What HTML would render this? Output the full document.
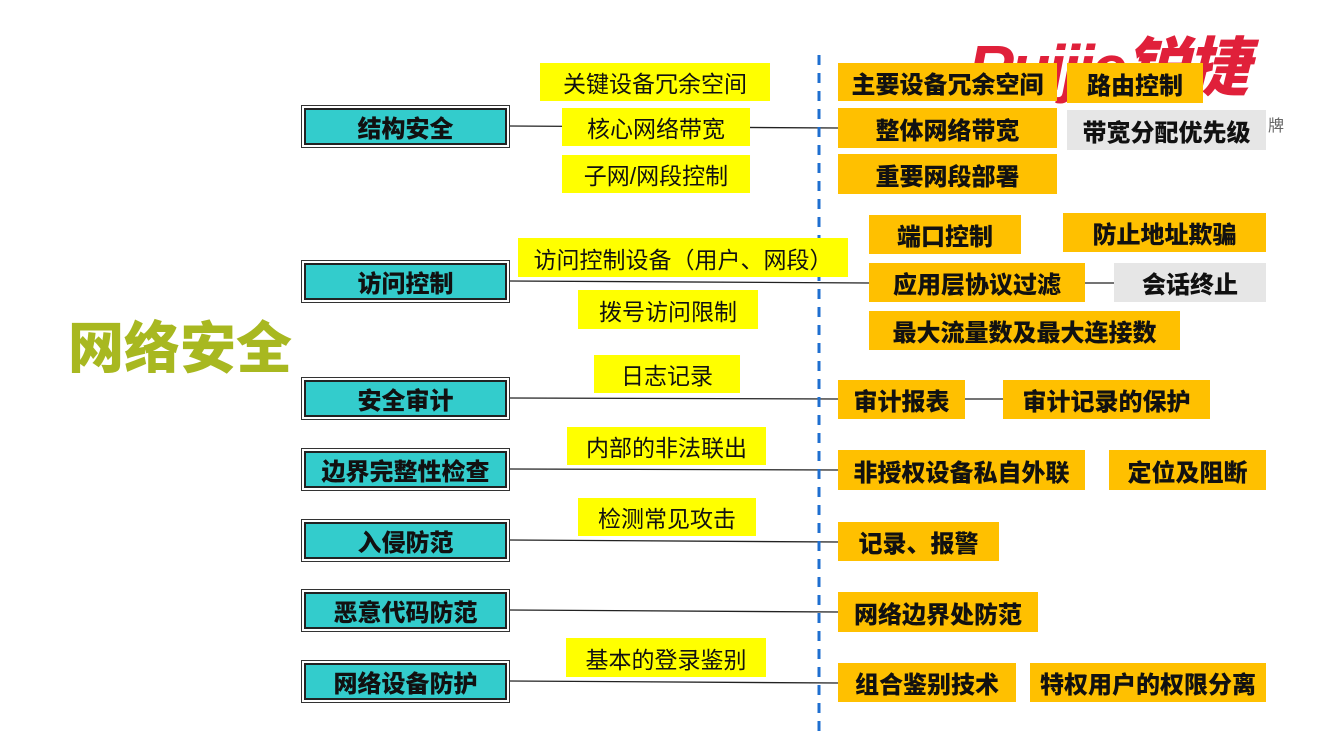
<!DOCTYPE html>
<html><head><meta charset="utf-8"><style>
body{margin:0;width:1333px;height:750px;background:#fff;position:relative;overflow:hidden;font-family:"Liberation Sans","Noto Sans CJK SC",sans-serif;}
.a{position:absolute;display:flex;align-items:center;justify-content:center;white-space:nowrap;box-sizing:border-box;}
.t{background:#33cccc;border:1px solid #333;box-shadow:inset 0 0 0 2px #fff,inset 0 0 0 4px #222;font-weight:900;font-size:24px;color:#111;width:209px;height:43px;left:301px;}
.y{background:#ffff00;font-size:23px;color:#111;}
.o{background:#ffc000;font-weight:900;font-size:24px;color:#111;}
.g{background:#e6e6e6;font-weight:900;font-size:24px;color:#111;}
</style></head><body>
<div class="a" style="left:968px;top:28px;height:70px;font-size:64px;font-style:italic;font-weight:900;color:#e0203a;letter-spacing:-3px">Ruijie锐捷</div>
<div class="a" style="left:1268px;top:112px;font-size:16px;color:#666">牌</div>
<svg width="1333" height="750" style="position:absolute;left:0;top:0">
<g stroke="#222" stroke-width="1.3">
<line x1="509" y1="126" x2="838" y2="128"/>
<line x1="509" y1="281" x2="869" y2="283"/>
<line x1="509" y1="398" x2="838" y2="399"/>
<line x1="509" y1="469" x2="838" y2="470"/>
<line x1="509" y1="540" x2="838" y2="542"/>
<line x1="509" y1="610" x2="838" y2="612"/>
<line x1="509" y1="681" x2="838" y2="683"/>
<line x1="965" y1="399" x2="1003" y2="399"/>
<line x1="1085" y1="283" x2="1114" y2="283"/>
</g>
<line x1="819" y1="55" x2="819" y2="732" stroke="#1f6fd0" stroke-width="3" stroke-dasharray="10,8"/>
</svg>
<div class="a" style="left:68px;top:304px;font-size:56px;font-weight:900;color:#a8b820">网络安全</div>

<div class="a t" style="top:105px">结构安全</div>
<div class="a t" style="top:260px">访问控制</div>
<div class="a t" style="top:377px">安全审计</div>
<div class="a t" style="top:448px">边界完整性检查</div>
<div class="a t" style="top:519px">入侵防范</div>
<div class="a t" style="top:589px">恶意代码防范</div>
<div class="a t" style="top:660px">网络设备防护</div>

<div class="a y" style="left:540px;top:63px;width:230px;height:38px">关键设备冗余空间</div>
<div class="a y" style="left:562px;top:108px;width:188px;height:38px">核心网络带宽</div>
<div class="a y" style="left:562px;top:155px;width:188px;height:38px">子网/网段控制</div>
<div class="a y" style="left:518px;top:238px;width:330px;height:39px">访问控制设备（用户、网段）</div>
<div class="a y" style="left:578px;top:290px;width:180px;height:39px">拨号访问限制</div>
<div class="a y" style="left:594px;top:355px;width:146px;height:38px">日志记录</div>
<div class="a y" style="left:567px;top:427px;width:199px;height:38px">内部的非法联出</div>
<div class="a y" style="left:578px;top:498px;width:178px;height:38px">检测常见攻击</div>
<div class="a y" style="left:566px;top:638px;width:200px;height:39px">基本的登录鉴别</div>

<div class="a o" style="left:838px;top:63px;width:219px;height:38px">主要设备冗余空间</div>
<div class="a o" style="left:1067px;top:63px;width:136px;height:40px">路由控制</div>
<div class="a o" style="left:838px;top:108px;width:219px;height:40px">整体网络带宽</div>
<div class="a g" style="left:1067px;top:110px;width:199px;height:40px">带宽分配优先级</div>
<div class="a o" style="left:838px;top:154px;width:219px;height:40px">重要网段部署</div>
<div class="a o" style="left:869px;top:215px;width:152px;height:39px">端口控制</div>
<div class="a o" style="left:1063px;top:213px;width:203px;height:39px">防止地址欺骗</div>
<div class="a o" style="left:869px;top:263px;width:216px;height:39px">应用层协议过滤</div>
<div class="a g" style="left:1114px;top:263px;width:152px;height:39px">会话终止</div>
<div class="a o" style="left:869px;top:311px;width:311px;height:39px">最大流量数及最大连接数</div>
<div class="a o" style="left:838px;top:380px;width:127px;height:39px">审计报表</div>
<div class="a o" style="left:1003px;top:380px;width:207px;height:39px">审计记录的保护</div>
<div class="a o" style="left:838px;top:450px;width:247px;height:40px">非授权设备私自外联</div>
<div class="a o" style="left:1109px;top:450px;width:157px;height:40px">定位及阻断</div>
<div class="a o" style="left:838px;top:522px;width:161px;height:39px">记录、报警</div>
<div class="a o" style="left:838px;top:592px;width:200px;height:40px">网络边界处防范</div>
<div class="a o" style="left:838px;top:663px;width:178px;height:39px">组合鉴别技术</div>
<div class="a o" style="left:1030px;top:663px;width:236px;height:39px">特权用户的权限分离</div>
</body></html>
